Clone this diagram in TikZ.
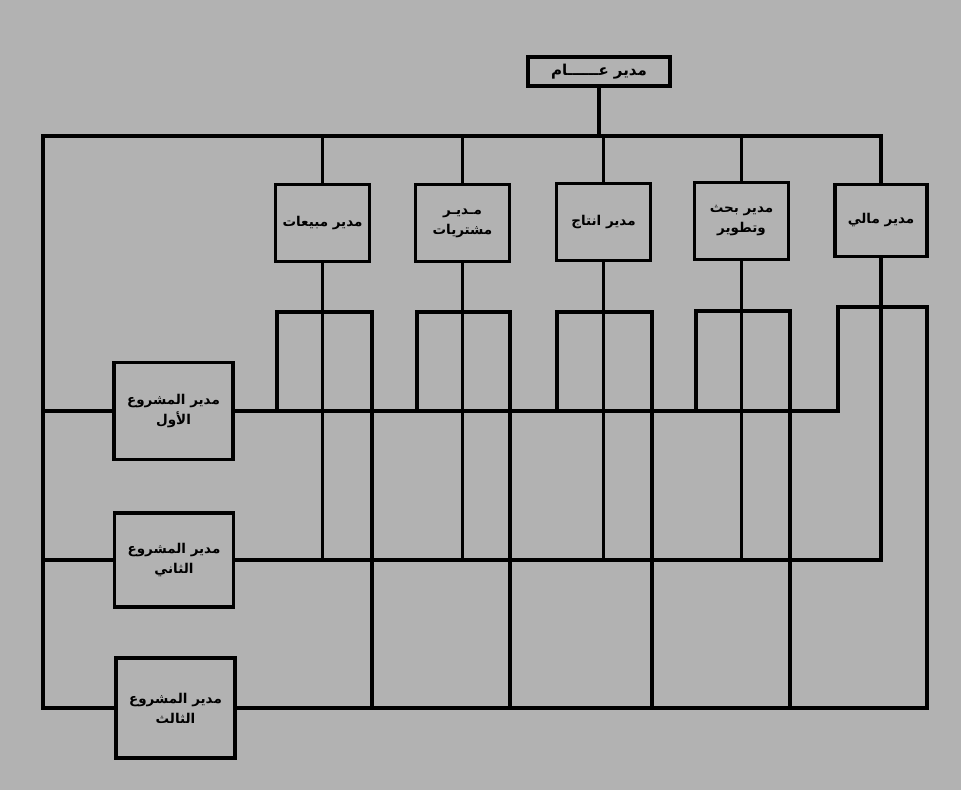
\documentclass[tikz,border=0pt]{standalone}
\usepackage{fontspec}
\newfontfamily\ar[Script=Arabic]{DejaVu Sans}
\TeXXeTstate=1
\definecolor{bgc}{RGB}{178,178,178}
\begin{document}
\begin{tikzpicture}[x=1pt,y=-1pt,
  ln/.style={line width=3.2pt,line cap=rect},
  box/.style={draw,line width=3.2pt,fill=bgc,inner sep=1pt,align=center,
    font=\ar\bfseries\fontsize{13.5}{20}\selectfont},
  fbox/.style={box,minimum width=94pt,minimum height=77pt},
  pbox/.style={box,minimum width=119pt,minimum height=97pt}]
\fill[bgc] (0,0) rectangle (961,790);
\useasboundingbox (0,0) rectangle (961,790);

% nodes
\node[box,minimum width=142pt,minimum height=29pt,font=\ar\bfseries\fontsize{15}{18}\selectfont] (gm) at (599,71.5) {\beginR مدير عــــــام\endR};
\node[fbox] (f1) at (322.5,223) {\beginR مدير مبيعات\endR};
\node[fbox] (f2) at (462.5,223) {\beginR مـديـر\endR\\\beginR مشتريات\endR};
\node[fbox] (f3) at (603.5,222) {\beginR مدير انتاج\endR};
\node[fbox] (f4) at (741.5,221) {\beginR مدير بحث\endR\\\beginR وتطوير\endR};
\node[fbox,minimum width=92pt,minimum height=72pt] (f5) at (881,220.5) {\beginR مدير مالي\endR};
\node[pbox] (p1) at (173.5,411) {\beginR مدير المشروع\endR\\\beginR الأول\endR};
\node[pbox,minimum height=94pt] (p2) at (174,560) {\beginR مدير المشروع\endR\\\beginR الثاني\endR};
\node[pbox,minimum height=100pt] (p3) at (175.5,708) {\beginR مدير المشروع\endR\\\beginR الثالث\endR};

% coordinates
\coordinate (lt) at (43,136);
\coordinate (bus) at (599,136);

% top bus
\draw[ln] (gm.south) -- (bus);
\draw[ln] (lt) -- (lt -| f5.north) -- (f5.north);
\foreach \f in {f1,f2,f3,f4}{\draw[ln] (\f.north |- lt) -- (\f.north);}

% left trunk to project managers
\draw[ln] (lt) -- (lt |- p3.west) -- (p3.west);
\draw[ln] (lt |- p1.west) -- (p1.west);
\draw[ln] (lt |- p2.west) -- (p2.west);

% project 2 line and functional drops
\draw[ln] (p2.east) -- (f5.south |- p2.east);
\foreach \f in {f1,f2,f3,f4,f5}{\draw[ln] (\f.south) -- (\f.south |- p2.east);}

% project 1 line
\coordinate (p1end) at (838,411);
\draw[ln] (p1.east) -- (p1end);

% U shapes: left edge from project 1 line, top, right edge down to project 3 line
\foreach \l/\r/\t in {277/372/312, 417/510/312, 557/652/312, 696/790/311, 838/927/307}{
  \coordinate (ul) at (\l,411);
  \coordinate (ult) at (\l,\t);
  \coordinate (urt) at (\r,\t);
  \draw[ln] (ul) -- (ult) -- (urt) -- (urt |- p3.east);
}

% project 3 line
\coordinate (p3end) at (927,708);
\draw[ln] (p3.east) -- (p3end);
\end{tikzpicture}
\end{document}
